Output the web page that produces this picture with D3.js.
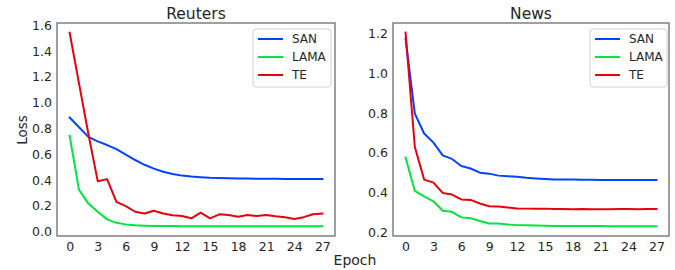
<!DOCTYPE html>
<html>
<head>
<meta charset="utf-8">
<script src="https://cdn.jsdelivr.net/npm/d3@7/dist/d3.min.js"></script>
<style>
  html, body { margin: 0; padding: 0; background: #fff; }
  svg { display: block; }
  text { font-family: "DejaVu Sans", sans-serif; fill: #262626; }
</style>
</head>
<body>
<svg id="chart" width="675" height="270"></svg>
<script>
// ---- data ----
const epochs = d3.range(0, 28);
const xTickValues = [0, 3, 6, 9, 12, 15, 18, 21, 24, 27];
const seriesNames = ["SAN", "LAMA", "TE"];
const seriesColors = ["#0343ff", "#00e63c", "#e8000b"];

const reutersSAN = [0.885, 0.81, 0.735, 0.700, 0.672, 0.640, 0.597, 0.556, 0.519, 0.489, 0.465, 0.447, 0.435, 0.428, 0.423, 0.419, 0.417, 0.415, 0.413, 0.412, 0.411, 0.410, 0.410, 0.409, 0.409, 0.409, 0.408, 0.408];
const reutersLAMA = [0.743, 0.325, 0.218, 0.155, 0.096, 0.069, 0.057, 0.050, 0.047, 0.045, 0.044, 0.044, 0.043, 0.043, 0.043, 0.043, 0.043, 0.043, 0.043, 0.043, 0.042, 0.042, 0.042, 0.042, 0.042, 0.042, 0.042, 0.042];
const reutersTE = [1.543, 1.15, 0.76, 0.392, 0.408, 0.232, 0.199, 0.155, 0.142, 0.163, 0.142, 0.127, 0.122, 0.104, 0.148, 0.104, 0.135, 0.129, 0.117, 0.129, 0.122, 0.129, 0.120, 0.113, 0.098, 0.113, 0.136, 0.141];

const newsSAN = [1.175, 0.798, 0.698, 0.652, 0.588, 0.570, 0.534, 0.522, 0.501, 0.496, 0.486, 0.483, 0.480, 0.475, 0.472, 0.469, 0.467, 0.466, 0.466, 0.465, 0.465, 0.464, 0.464, 0.464, 0.464, 0.464, 0.464, 0.464];
const newsLAMA = [0.577, 0.409, 0.382, 0.357, 0.309, 0.304, 0.276, 0.272, 0.258, 0.245, 0.245, 0.240, 0.237, 0.236, 0.235, 0.234, 0.233, 0.233, 0.233, 0.232, 0.232, 0.232, 0.231, 0.231, 0.231, 0.231, 0.231, 0.231];
const newsTE = [1.205, 0.630, 0.466, 0.451, 0.399, 0.391, 0.366, 0.364, 0.346, 0.332, 0.331, 0.326, 0.321, 0.320, 0.319, 0.320, 0.318, 0.318, 0.317, 0.318, 0.317, 0.317, 0.317, 0.318, 0.318, 0.317, 0.318, 0.318];

const reutersYTicks = [0.0, 0.2, 0.4, 0.6, 0.8, 1.0, 1.2, 1.4, 1.6];
const newsYTicks = [0.2, 0.4, 0.6, 0.8, 1.0, 1.2];

const panels = [
  { title: "Reuters", series: [reutersSAN, reutersLAMA, reutersTE], yTicks: reutersYTicks,
    x0: 57, x1: 335, legend: { x: 253, y: 29, w: 78, h: 58 } },
  { title: "News", series: [newsSAN, newsLAMA, newsTE], yTicks: newsYTicks,
    x0: 393, x1: 669, legend: { x: 590, y: 29, w: 77, h: 58 } }
];

const svg = d3.select("#chart");
const plotTop = 23, plotBottom = 236;

panels.forEach(p => {
  const all = p.series.flat();
  const mn = d3.min(all), mx = d3.max(all);
  const pad = (mx - mn) * 0.05;
  const y = d3.scaleLinear().domain([mn - pad, mx + pad]).range([plotBottom, plotTop]);
  const x = d3.scaleLinear().domain([-1.35, 28.35]).range([p.x0, p.x1]);

  const g = svg.append("g");

  // x axis
  const xa = g.append("g").attr("transform", `translate(0,${plotBottom})`)
    .call(d3.axisBottom(x).tickValues(xTickValues).tickSize(0).tickPadding(6).tickFormat(d3.format("d")));
  xa.select(".domain").remove();
  xa.selectAll("text").style("font-size", "12.5px").attr("fill", "#262626").style("font-family", "DejaVu Sans");

  // y axis
  const ya = g.append("g").attr("transform", `translate(${p.x0},0)`)
    .call(d3.axisLeft(y).tickValues(p.yTicks).tickSize(0).tickPadding(5).tickFormat(d3.format(".1f")));
  ya.select(".domain").remove();
  ya.selectAll("text").style("font-size", "12.5px").attr("fill", "#262626").style("font-family", "DejaVu Sans");

  // lines
  const line = d3.line().x((d, i) => x(epochs[i])).y(d => y(d));
  p.series.forEach((s, k) => {
    g.append("path").datum(s).attr("d", line)
      .attr("fill", "none").attr("stroke", seriesColors[k])
      .attr("stroke-width", 2).attr("stroke-linejoin", "round").attr("stroke-linecap", "square");
  });

  // frame
  g.append("rect").attr("x", p.x0).attr("y", plotTop)
    .attr("width", p.x1 - p.x0).attr("height", plotBottom - plotTop)
    .attr("fill", "none").attr("stroke", "#666").attr("stroke-width", 1.25);

  // title
  g.append("text").attr("x", (p.x0 + p.x1) / 2).attr("y", 19)
    .attr("text-anchor", "middle").style("font-size", "15.5px").text(p.title);

  // legend
  const L = p.legend;
  const lg = g.append("g");
  lg.append("rect").attr("x", L.x).attr("y", L.y).attr("width", L.w).attr("height", L.h)
    .attr("rx", 3).attr("fill", "#fff").attr("fill-opacity", 0.8)
    .attr("stroke", "#d0d0d0").attr("stroke-width", 1);
  seriesNames.forEach((name, k) => {
    const yy = L.y + 10 + k * 18;
    lg.append("line").attr("x1", L.x + 5).attr("x2", L.x + 30).attr("y1", yy).attr("y2", yy)
      .attr("stroke", seriesColors[k]).attr("stroke-width", 2);
    lg.append("text").attr("x", L.x + 39).attr("y", yy).attr("dy", "0.36em")
      .style("font-size", "12px").text(name);
  });
});

// shared axis labels
svg.append("text").attr("x", 355).attr("y", 265).attr("text-anchor", "middle")
  .style("font-size", "14px").text("Epoch");
svg.append("text").attr("transform", "translate(27,130) rotate(-90)")
  .attr("text-anchor", "middle").style("font-size", "13.5px").text("Loss");
</script>
</body>
</html>
